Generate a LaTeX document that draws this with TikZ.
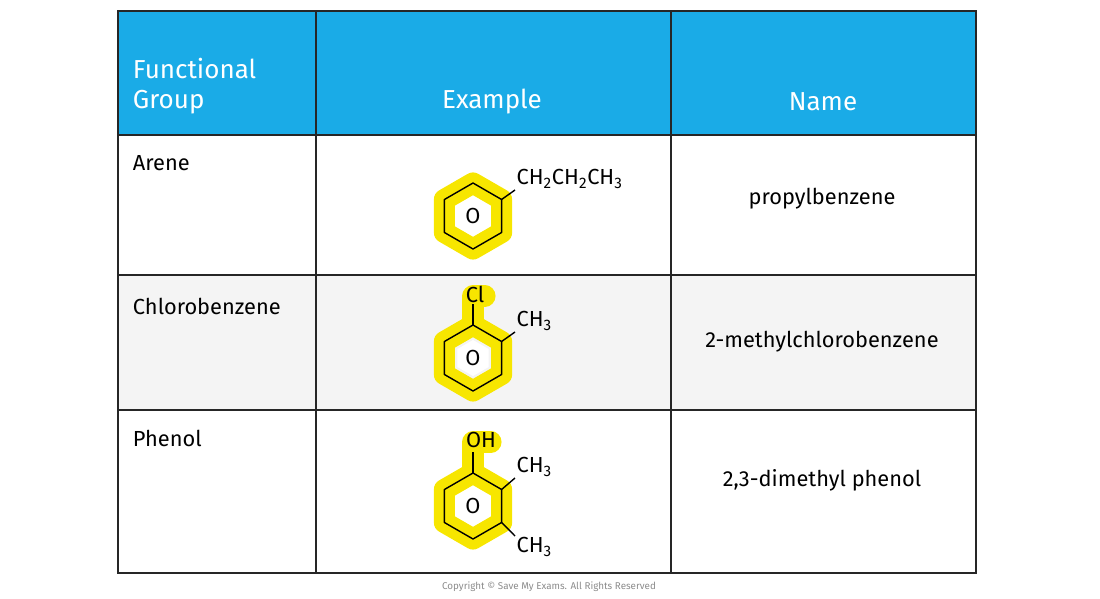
\documentclass[tikz,border=0pt]{standalone}
\usepackage{fontspec}
\setmainfont{Fira Sans}
\usetikzlibrary{positioning,calc}
\definecolor{smeblue}{HTML}{1AABE7}
\definecolor{rowgrey}{HTML}{F4F4F4}
\definecolor{hilite}{HTML}{F7E600}
\tikzset{
    grid/.style   = {draw=black!85, line width=1.8pt},
    head/.style   = {text=white, font=\fontsize{18.5}{21}\selectfont, align=left},
    cell/.style   = {font=\fontsize{15.5}{18}\selectfont, anchor=west},
    chem/.style   = {font=\fontsize{15.5}{17}\selectfont, inner sep=1pt},
    bond/.style   = {line width=1pt, line join=round},
    glow/.style   = {draw=hilite, line width=15pt, line join=round, line cap=round},
}
\newcommand\RING{33}
\newcommand\HOLE{18}
% benzene ring with highlight: centre
\newcommand\benz[1]{%
   \draw[glow] ($(#1)+(90:\RING)$) \foreach \a in {150,210,...,390} {-- ($(#1)+(\a:\RING)$)} -- cycle;
   \fill[white] ($(#1)+(90:\HOLE)$) \foreach \a in {150,210,...,390} {-- ($(#1)+(\a:\HOLE)$)} -- cycle;
   \draw[bond] ($(#1)+(90:\RING)$) \foreach \a in {150,210,...,390} {-- ($(#1)+(\a:\RING)$)} -- cycle;
   \node[chem] at (#1) {O};
}
\begin{document}
\begin{tikzpicture}[x=0.025cm, y=-0.025cm]
   \useasboundingbox (0,0) rectangle (1100,599);

   % table
   \fill[smeblue] (118,11) rectangle (976,135);
   \fill[rowgrey] (118,275) rectangle (976,410);
   \draw[grid] (118,11) rectangle (976,573);
   \foreach \x in {316,671} \draw[grid] (\x,11) -- (\x,573);
   \foreach \y in {135,275,410} \draw[grid] (118,\y) -- (976,\y);

   % header
   \node (hgroup) [head, anchor=west] at (128,86) {Functional\\Group};
   \node (hexam)  [head] at (492,102) {Example};
   \node (hname)  [head] at (823,102) {Name};

   % first column
   \node (arene)  [cell] at (128,163) {Arene};
   \node (chloro) [cell] at (128,306) {Chlorobenzene};
   \node (phenol) [cell] at (128,438) {Phenol};

   % names
   \node (nprop)  [cell, anchor=center] at (822,199) {propylbenzene};
   \node (nchlor) [cell, anchor=center] at (822,342) {2-methylchlorobenzene};
   \node (nphen)  [cell, anchor=center] at (822,480) {2,3-dimethyl phenol};

   % propylbenzene
   \coordinate (ra) at (473,216);
   \benz{ra}
   \node (propyl) [chem, anchor=south west] at (515,190) {CH\textsubscript{2}CH\textsubscript{2}CH\textsubscript{3}};
   \draw[bond] ($(ra)+(-30:\RING)$) -- (propyl.south west);

   % 2-methylchlorobenzene
   \coordinate (rb) at (473,358);
   \draw[glow] ($(rb)+(-90:\RING)$) -- (473,296) -- ++(12,0);
   \benz{rb}
   \node (cl) [chem] at (475,294) {Cl};
   \draw[bond] ($(rb)+(-90:\RING)$) -- (473,304);
   \node (meb) [chem, anchor=south west] at (515,332) {CH\textsubscript{3}};
   \draw[bond] ($(rb)+(-30:\RING)$) -- (meb.south west);

   % 2,3-dimethyl phenol
   \coordinate (rc) at (473,506);
   \draw[glow] ($(rc)+(-90:\RING)$) -- (473,442) -- ++(18,0);
   \benz{rc}
   \node (oh) [chem] at (481,440) {OH};
   \draw[bond] ($(rc)+(-90:\RING)$) -- (473,452);
   \node (mec1) [chem, anchor=south west] at (515,478) {CH\textsubscript{3}};
   \draw[bond] ($(rc)+(-30:\RING)$) -- (mec1.south west);
   \node (mec2) [chem, anchor=north west] at (515,536) {CH\textsubscript{3}};
   \draw[bond] ($(rc)+(30:\RING)$) -- (mec2.north west);

   % footer
   \node (copy) [font=\fontsize{7}{8}\selectfont, text=black!45] at (549,587) {Copyright © Save My Exams. All Rights Reserved};
\end{tikzpicture}
\end{document}
